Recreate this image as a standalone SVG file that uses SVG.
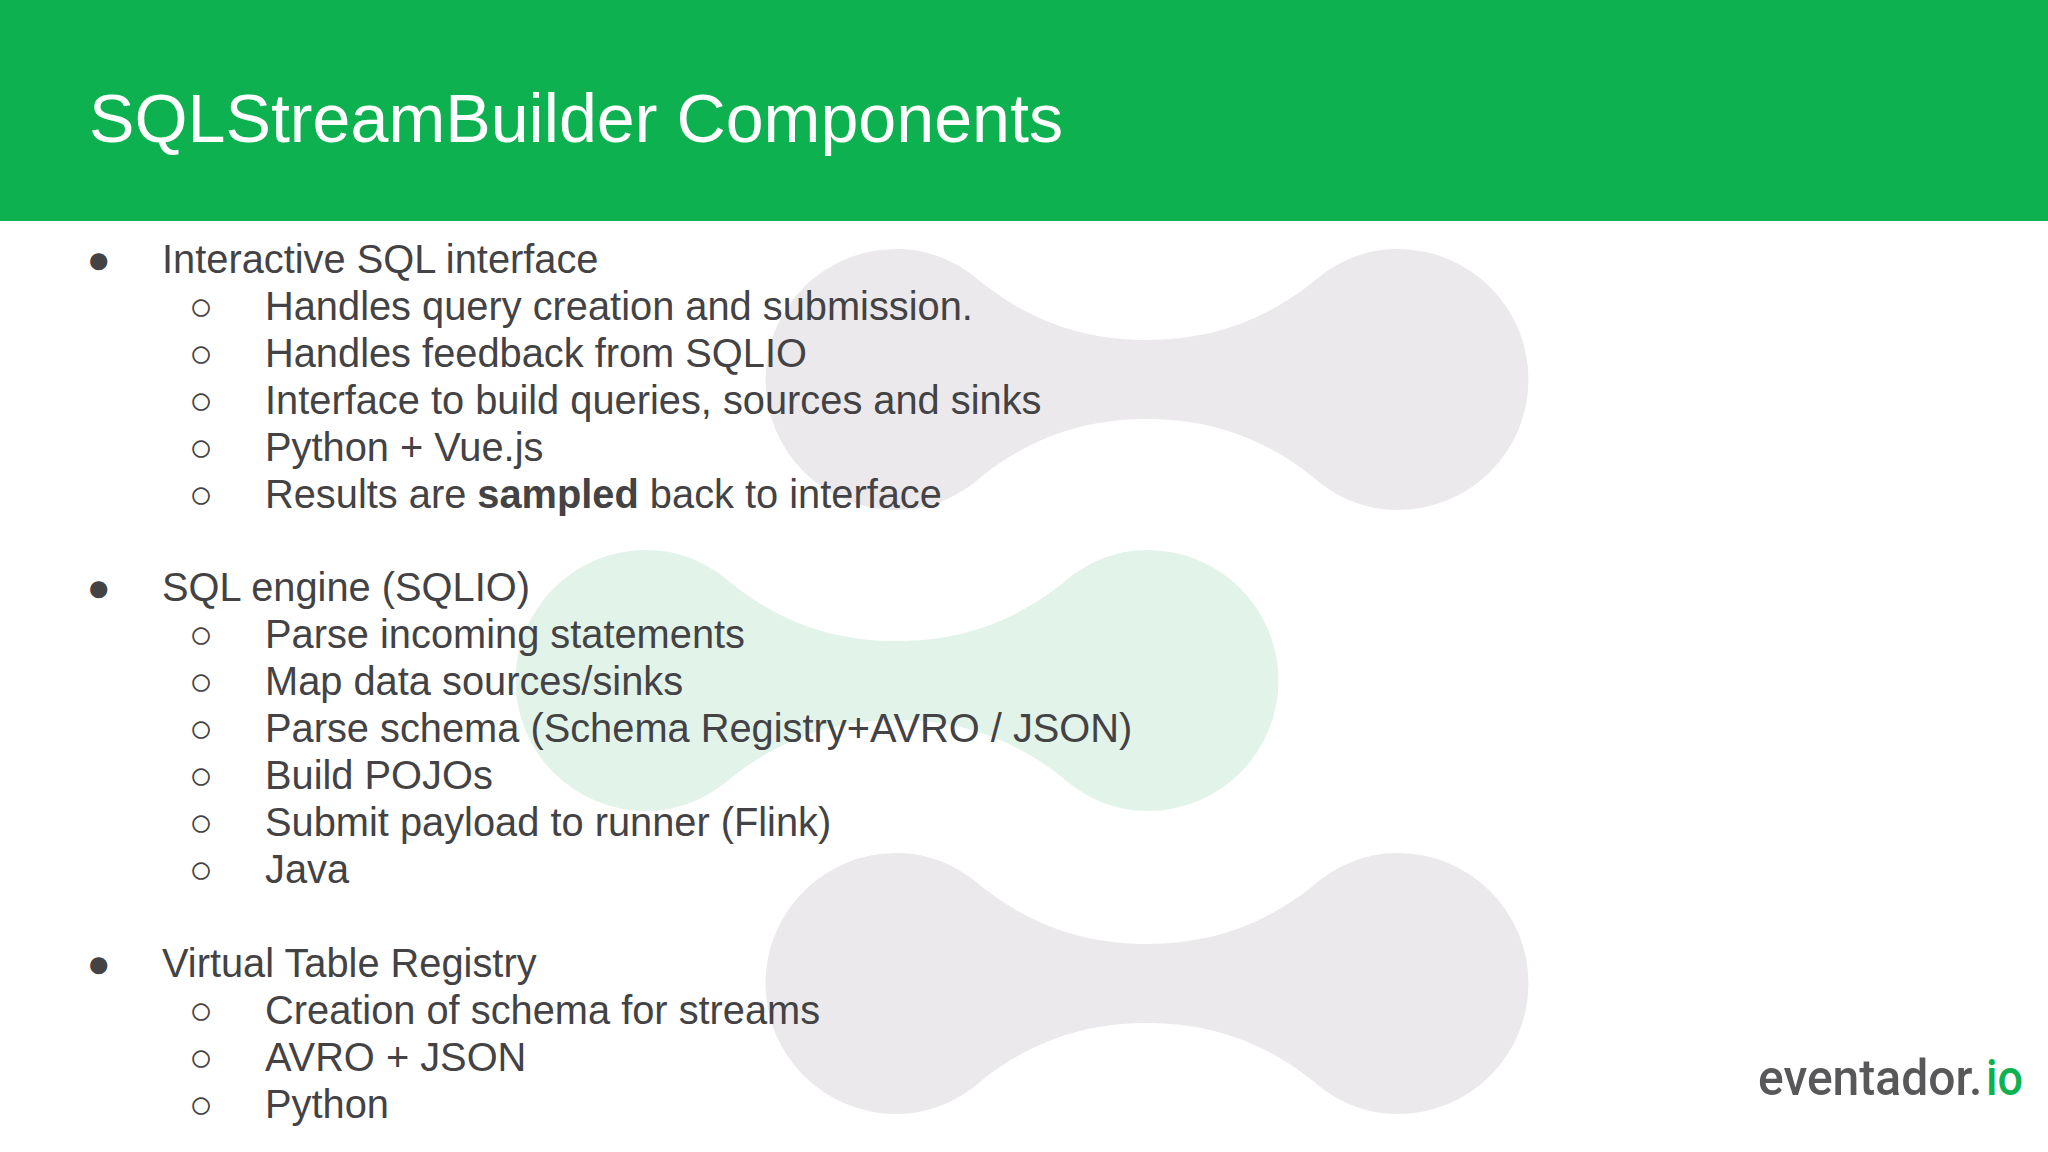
<svg xmlns="http://www.w3.org/2000/svg" xmlns:xlink="http://www.w3.org/1999/xlink" width="2048" height="1152" viewBox="0 0 2048 1152">
<style>
text{font-family:"Liberation Sans",Arial,sans-serif;fill:#434244}
.t{font-size:39.8px}
.b{font-size:39.8px}
.title{font-size:68.2px;fill:#fff}
.logo{font-family:Roboto,"Liberation Sans",sans-serif;font-weight:500;font-size:50px;fill:#58585a}
</style>
<defs>
<path id="blob" d="M896,249C930,249 958,262 981,282C1035,325 1090,340 1147,340C1204,340 1259,325 1313,282C1336,262 1364,249 1398,249A130.5,130.5 0 0 1 1398,510C1364,510 1336,497 1313,477C1259,434 1204,419 1147,419C1090,419 1035,434 981,477C958,497 930,510 896,510A130.5,130.5 0 0 1 896,249Z"/>
</defs>
<rect width="2048" height="1152" fill="#fff"/>
<g id="watermark">
<use xlink:href="#blob" href="#blob" fill="#ebe9ec"/>
<use xlink:href="#blob" href="#blob" x="-250" y="301" fill="#e2f3ea"/>
<use xlink:href="#blob" href="#blob" y="604" fill="#ebe9ec"/>
</g>
<rect id="band" width="2048" height="221" fill="#0db14f"/>
<text class="title" x="89" y="142">SQLStreamBuilder Components</text>
<g id="list">
<text class="b" x="86.5" y="272.5">●</text><text class="t" x="162" y="273">Interactive SQL interface</text>
<text class="b" x="189" y="319.5">○</text><text class="t" x="265" y="320">Handles query creation and submission.</text>
<text class="b" x="189" y="366.5">○</text><text class="t" x="265" y="367">Handles feedback from SQLIO</text>
<text class="b" x="189" y="413.5">○</text><text class="t" x="265" y="414">Interface to build queries, sources and sinks</text>
<text class="b" x="189" y="460.5">○</text><text class="t" x="265" y="461">Python + Vue.js</text>
<text class="b" x="189" y="507.5">○</text><text class="t" x="265" y="508">Results are <tspan font-weight="700">sampled</tspan> back to interface</text>
<text class="b" x="86.5" y="600.5">●</text><text class="t" x="162" y="601">SQL engine (SQLIO)</text>
<text class="b" x="189" y="647.5">○</text><text class="t" x="265" y="648">Parse incoming statements</text>
<text class="b" x="189" y="694.5">○</text><text class="t" x="265" y="695">Map data sources/sinks</text>
<text class="b" x="189" y="741.5">○</text><text class="t" x="265" y="742">Parse schema (Schema Registry+AVRO / JSON)</text>
<text class="b" x="189" y="788.5">○</text><text class="t" x="265" y="789">Build POJOs</text>
<text class="b" x="189" y="835.5">○</text><text class="t" x="265" y="836">Submit payload to runner (Flink)</text>
<text class="b" x="189" y="882.5">○</text><text class="t" x="265" y="883">Java</text>
<text class="b" x="86.5" y="976.5">●</text><text class="t" x="162" y="977">Virtual Table Registry</text>
<text class="b" x="189" y="1023.5">○</text><text class="t" x="265" y="1024">Creation of schema for streams</text>
<text class="b" x="189" y="1070.5">○</text><text class="t" x="265" y="1071">AVRO + JSON</text>
<text class="b" x="189" y="1117.5">○</text><text class="t" x="265" y="1118">Python</text>
</g>
<g id="logo"><text class="logo" transform="translate(1758 1095) scale(.96 1)">eventador.</text><text class="logo" transform="translate(1986 1095) scale(.9 1)" style="fill:#0db14f">io</text></g>
</svg>
